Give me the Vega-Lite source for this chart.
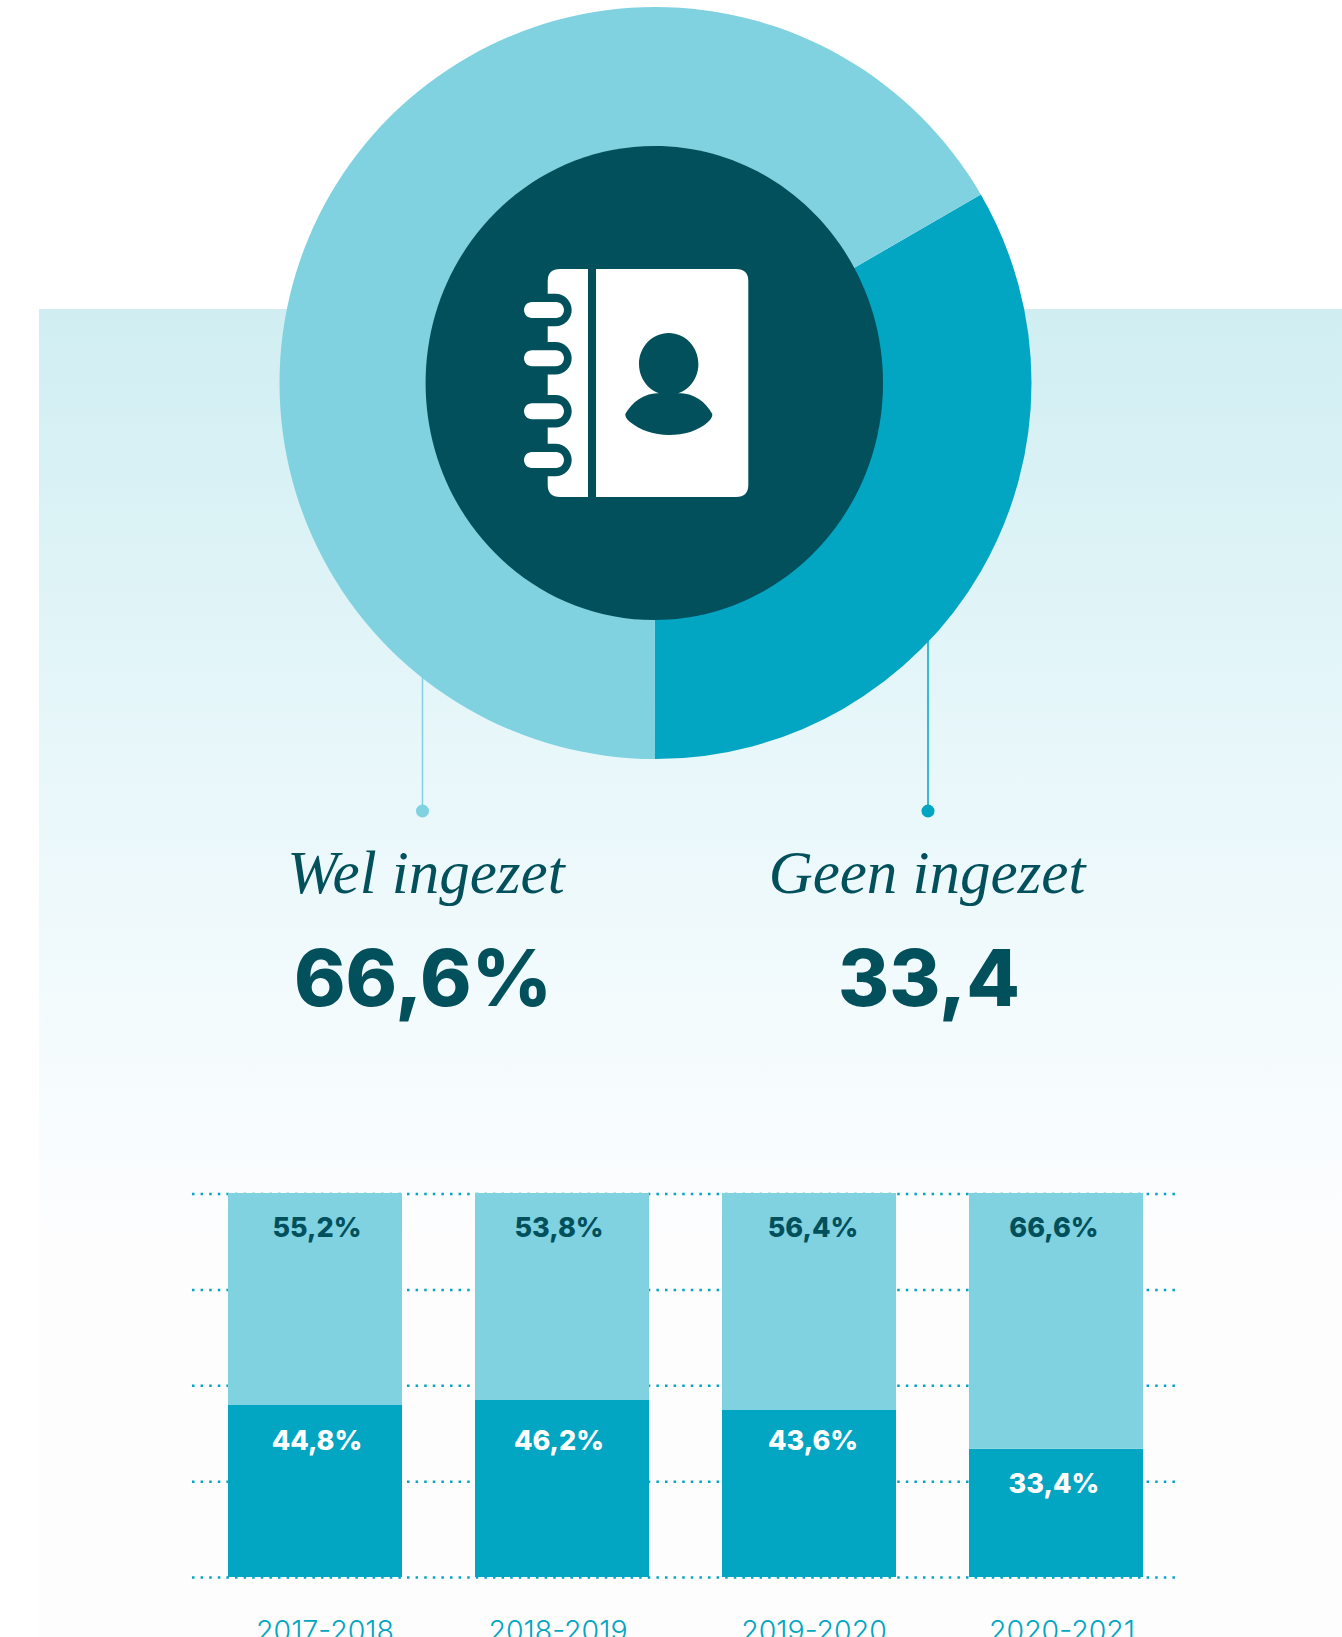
{
"$schema":"https://vega.github.io/schema/vega-lite/v6.json",
"width":1342,"height":1637,"padding":0,"autosize":{"type":"none"},
"background":"#ffffff",
"config":{"view":{"stroke":null}},
"datasets":{
 "donut":[{"categorie":"Geen ingezet","aandeel":33.4,"volgorde":1,"label":"33,4"},{"categorie":"Wel ingezet","aandeel":66.6,"volgorde":2,"label":"66,6%"}],
 "bars":[
 {"jaar":"2017-2018","start":2017,"categorie":"Geen ingezet","aandeel":44.8,"label":"44,8%"},
 {"jaar":"2017-2018","start":2017,"categorie":"Wel ingezet","aandeel":55.2,"label":"55,2%"},
 {"jaar":"2018-2019","start":2018,"categorie":"Geen ingezet","aandeel":46.2,"label":"46,2%"},
 {"jaar":"2018-2019","start":2018,"categorie":"Wel ingezet","aandeel":53.8,"label":"53,8%"},
 {"jaar":"2019-2020","start":2019,"categorie":"Geen ingezet","aandeel":43.6,"label":"43,6%"},
 {"jaar":"2019-2020","start":2019,"categorie":"Wel ingezet","aandeel":56.4,"label":"56,4%"},
 {"jaar":"2020-2021","start":2020,"categorie":"Geen ingezet","aandeel":33.4,"label":"33,4%"},
 {"jaar":"2020-2021","start":2020,"categorie":"Wel ingezet","aandeel":66.6,"label":"66,6%"}],
 "grid":[{"p":0},{"p":25},{"p":50},{"p":75},{"p":100}]
},
"resolve":{"scale":{"x":"independent","y":"independent","color":"shared","theta":"independent"}},
"layer":[
{"data":{"values":[{}]},"mark":{"type":"rect","x":39,"x2":1342,"y":309,"y2":1637,"color":{"gradient":"linear","x1":0,"y1":0,"x2":0,"y2":1,"stops":[{"offset":0,"color":"#d0eef2"},{"offset":0.34,"color":"#e8f7fa"},{"offset":0.6,"color":"#f7fcfe"},{"offset":0.7,"color":"#fdfdfe"},{"offset":1,"color":"#fdfdfd"}]}}},
{"data":{"name":"donut"},"mark":{"type":"rule","y":811,"y2":620,"strokeWidth":1.5},"encoding":{"x":{"field":"categorie","type":"nominal","axis":null,"scale":{"type":"point","padding":0,"domain":["Wel ingezet","Geen ingezet"],"range":[422.5,928]}},"color":{"field":"categorie","type":"nominal","legend":null,"scale":{"domain":["Geen ingezet","Wel ingezet"],"range":["#02a5c2","#80d2e0"]}}}},
{"data":{"name":"donut"},"mark":{"type":"circle","y":811,"size":170,"opacity":1},"encoding":{"x":{"field":"categorie","type":"nominal","axis":null,"scale":{"type":"point","padding":0,"domain":["Wel ingezet","Geen ingezet"],"range":[422.5,928]}},"color":{"field":"categorie","type":"nominal","legend":null}}},
{"data":{"name":"donut"},"mark":{"type":"arc","x":655.5,"y":383,"outerRadius":376,"innerRadius":0},"encoding":{"theta":{"field":"aandeel","type":"quantitative","stack":true,"scale":{"domain":[0,100],"range":[1.0455,7.3287]}},"order":{"field":"volgorde","type":"quantitative"},"color":{"field":"categorie","type":"nominal","legend":null}}},
{"data":{"values":[{}]},"mark":{"type":"point","x":654.3,"y":383,"filled":true,"opacity":1,"fill":"#01505c","stroke":null,"size":224676,"shape":"M -0.965 0 A 0.965 1 0 1 1 0.965 0 A 0.965 1 0 1 1 -0.965 0 Z"}},
{"data":{"values":[{}]},"mark":{"type":"point","x":648,"y":383,"filled":true,"opacity":1,"fill":"#ffffff","stroke":null,"size":4,"shape":"M -60 -114 L -88 -114 Q -100.3 -114 -100.3 -102 L -100.3 102 Q -100.3 114 -88 114 L -60 114 Z M -52 -114 L 88 -114 Q 100.3 -114 100.3 -102 L 100.3 102 Q 100.3 114 88 114 L -52 114 Z"}},
{"data":{"values":[{}]},"mark":{"type":"point","x":648,"y":383,"filled":true,"opacity":1,"fill":"#01505c","stroke":null,"size":4,"shape":"M -101 -89.3 L -92.6 -89.3 A 16.3 16.3 0 0 1 -92.6 -56.7 L -101 -56.7 Z M -101 -41 L -92.6 -41 A 16.3 16.3 0 0 1 -92.6 -8.4 L -101 -8.4 Z M -101 12 L -92.6 12 A 16.3 16.3 0 0 1 -92.6 44.6 L -101 44.6 Z M -101 60.7 L -92.6 60.7 A 16.3 16.3 0 0 1 -92.6 93.3 L -101 93.3 Z M -9 -19 A 29.7 31 0 1 1 50.4 -19 A 29.7 31 0 1 1 -9 -19 Z M -22.7 31 C -16 19 -4 10 12 10 L 30 10 C 46 10 58 19 64.3 31 C 64.3 35 62 37 60 39 C 50 48 36 52 21 52 C 6 52 -8 47 -18 39 C -20 37 -22.7 35 -22.7 31 Z"}},
{"data":{"values":[{}]},"mark":{"type":"point","x":648,"y":383,"filled":true,"opacity":1,"fill":"#ffffff","stroke":null,"size":4,"shape":"M -116 -81 L -92 -81 A 8 8 0 0 1 -92 -65 L -116 -65 A 8 8 0 0 1 -116 -81 Z M -116 -32.7 L -92 -32.7 A 8 8 0 0 1 -92 -16.7 L -116 -16.7 A 8 8 0 0 1 -116 -32.7 Z M -116 20.3 L -92 20.3 A 8 8 0 0 1 -92 36.3 L -116 36.3 A 8 8 0 0 1 -116 20.3 Z M -116 69 L -92 69 A 8 8 0 0 1 -92 85 L -116 85 A 8 8 0 0 1 -116 69 Z"}},
{"data":{"name":"donut"},"mark":{"type":"text","y":893,"baseline":"alphabetic","align":"center","font":"Liberation Serif","fontStyle":"italic","fontSize":61,"color":"#01505c"},"encoding":{"x":{"field":"categorie","type":"nominal","axis":null,"scale":{"type":"point","padding":0,"domain":["Wel ingezet","Geen ingezet"],"range":[426,927]}},"text":{"field":"categorie"}}},
{"data":{"name":"donut"},"mark":{"type":"text","y":1006,"baseline":"alphabetic","align":"center","font":"Inter","fontWeight":800,"fontSize":78,"color":"#01505c"},"encoding":{"x":{"field":"categorie","type":"nominal","axis":null,"scale":{"type":"point","padding":0,"domain":["Wel ingezet","Geen ingezet"],"range":[423,929]}},"text":{"field":"label"}}},
{"data":{"name":"grid"},"mark":{"type":"rule","x":192,"x2":1180,"color":"#02a5c2","strokeWidth":2.5,"strokeDash":[2.5,6.1]},"encoding":{"y":{"field":"p","type":"quantitative","axis":null,"scale":{"domain":[0,100],"range":[1577.5,1194]}}}},
{"data":{"name":"bars"},"mark":{"type":"bar"},"encoding":{"x":{"field":"jaar","type":"nominal","axis":null,"scale":{"type":"band","range":[228,1143],"paddingInner":0.2955,"paddingOuter":0}},"y":{"field":"aandeel","type":"quantitative","stack":"zero","axis":null,"scale":{"domain":[0,100],"range":[1577,1193]}},"order":{"field":"categorie","type":"nominal"},"color":{"field":"categorie","type":"nominal","legend":null}}},
{"data":{"name":"bars"},"transform":[{"filter":"datum.categorie==='Wel ingezet'"}],"mark":{"type":"text","y":1237,"baseline":"alphabetic","align":"center","font":"Inter","fontWeight":800,"fontSize":27,"color":"#01505c"},"encoding":{"x":{"field":"start","type":"quantitative","axis":null,"scale":{"domain":[2017,2018,2019,2020],"range":[317,559,813,1054]}},"text":{"field":"label"}}},
{"data":{"name":"bars"},"transform":[{"filter":"datum.categorie==='Geen ingezet'"}],"mark":{"type":"text","baseline":"alphabetic","align":"center","font":"Inter","fontWeight":800,"fontSize":27,"color":"#ffffff"},"encoding":{"x":{"field":"start","type":"quantitative","axis":null,"scale":{"domain":[2017,2018,2019,2020],"range":[317,559,813,1054]}},"y":{"field":"aandeel","type":"quantitative","axis":null,"scale":{"domain":[33.4,43.6,46.2],"range":[1493,1450,1450]}},"text":{"field":"label"}}},
{"data":{"name":"bars"},"transform":[{"filter":"datum.categorie==='Wel ingezet'"}],"mark":{"type":"text","y":1641,"baseline":"alphabetic","align":"center","font":"Inter","fontWeight":300,"fontSize":28.5,"color":"#02a5c2"},"encoding":{"x":{"field":"start","type":"quantitative","axis":null,"scale":{"domain":[2017,2018,2019,2020],"range":[325,558,814,1062]}},"text":{"field":"jaar"}}}
]
}
